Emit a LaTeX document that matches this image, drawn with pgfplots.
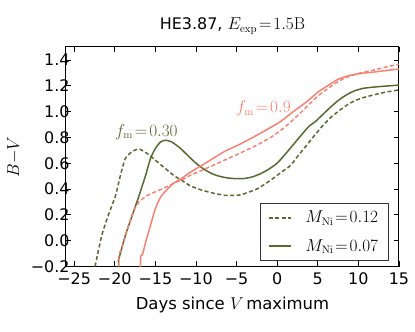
\documentclass[border=0pt]{standalone}
\usepackage[no-math]{fontspec}
\setmainfont{DejaVu Sans}
\usepackage{pgfplots}
\pgfplotsset{compat=1.18}

\definecolor{salmon}{RGB}{250,128,114}
\definecolor{olivegreen}{RGB}{85,107,47}

\begin{document}
\begin{tikzpicture}
\useasboundingbox (-66bp,-65.5bp) rectangle (349bp,266.5bp);
\begin{axis}[
width=333bp,
height=219.5bp,
scale only axis,
xmin=-26, xmax=15,
ymin=-0.2, ymax=1.5,
xtick={-25,-20,-15,-10,-5,0,5,10,15},
xticklabels={−25,−20,−15,−10,−5,0,5,10,15},
ytick={-0.2,0,0.2,0.4,0.6,0.8,1.0,1.2,1.4},
yticklabels={−0.2,0.0,0.2,0.4,0.6,0.8,1.0,1.2,1.4},
tick align=inside,
tick pos=both,
major tick length=5bp,
tick style={black, line width=0.8bp},
axis line style={line width=1bp},
tick label style={font=\fontsize{16}{18}\selectfont},
xticklabel style={yshift=-3bp},
yticklabel style={xshift=7bp},
label style={font=\fontsize{16.5}{18}\selectfont},
title style={font=\fontsize{16}{18}\selectfont, at={(axis description cs:0.5,1.068)}, anchor=center},
title={HE3.87, $E_{\mathrm{exp}}\!=\!1.5\mathrm{B}$},
xlabel={Days since $V$\,maximum},
xlabel style={at={(axis description cs:0.5,-0.177)}, anchor=center},
ylabel={$B{-}V$},
ylabel style={at={(axis description cs:-0.156,0.5)}, anchor=center},
legend cell align={left},
legend style={
  at={(0.968,0.025)},
  anchor=south east,
  draw=black!80,
  line width=0.6bp,
  font=\fontsize{16}{18}\selectfont,
  row sep=11bp,
  inner xsep=8bp,
  inner ysep=6bp
},
legend image code/.code={\draw[#1] (0bp,0bp) -- (22bp,0bp); \path (34bp,0bp);},
every axis plot/.append style={smooth, tension=0.35},
]

% f_m = 0.30 (green)
\addplot [olivegreen, line width=1.5bp, dash pattern=on 4bp off 2.5bp]
table {%
-22.5 -0.25
-22.4 -0.195
-21.6 0.04
-20.8 0.195
-19.9 0.35
-19.3 0.505
-18.7 0.636
-17.85 0.69
-17.0 0.71
-16.0 0.675
-15.0 0.623
-13.75 0.558
-12.75 0.506
-11.7 0.465
-10.7 0.425
-9.45 0.395
-8.0 0.37
-6.6 0.352
-5.8 0.35
-4.5 0.355
-2.5 0.40
-1.0 0.46
0.5 0.53
1.6 0.58
2.6 0.66
3.64 0.74
4.66 0.82
5.67 0.895
6.7 0.96
7.7 1.01
8.7 1.055
9.77 1.09
11.0 1.115
12.2 1.134
13.3 1.15
14.26 1.16
15.0 1.168
};
\addlegendentry{$M_{\mathrm{Ni}}\!=\!0.12$}
\addplot [olivegreen, line width=1.5bp]
table {%
-19.55 -0.25
-19.5 -0.14
-19.4 -0.12
-18.7 0.04
-17.85 0.195
-17.0 0.35
-16.2 0.506
-15.6 0.636
-15.0 0.714
-14.35 0.765
-13.75 0.778
-13.0 0.765
-12.0 0.72
-11.0 0.66
-10.0 0.60
-9.0 0.553
-8.0 0.518
-7.0 0.497
-6.0 0.485
-5.0 0.48
-4.0 0.482
-3.0 0.495
-2.0 0.52
-1.0 0.555
0.0 0.60
1.0 0.67
2.0 0.745
3.0 0.82
3.9 0.885
4.66 0.92
5.5 0.97
6.5 1.03
7.5 1.085
8.55 1.13
9.5 1.16
10.6 1.18
12.0 1.19
13.3 1.197
15.0 1.205
};
\addlegendentry{$M_{\mathrm{Ni}}\!=\!0.07$}

% f_m = 0.9 (salmon)
\addplot [salmon, line width=1.5bp, dash pattern=on 4bp off 2.5bp, forget plot]
table {%
-19.55 -0.25
-19.5 -0.12
-19.3 -0.08
-18.9 -0.013
-18.3 0.117
-17.65 0.233
-17.0 0.30
-16.0 0.35
-14.2 0.40
-12.75 0.445
-11.6 0.475
-10.7 0.506
-8.9 0.555
-6.6 0.62
-4.5 0.68
-2.5 0.74
-0.8 0.80
0.77 0.87
2.2 0.95
3.64 1.037
5.0 1.12
6.5 1.19
7.7 1.24
8.95 1.275
10.3 1.30
11.8 1.32
13.4 1.345
15.0 1.367
};
\addplot [salmon, line width=1.5bp, forget plot]
table {%
-16.85 -0.25
-16.8 -0.12
-16.6 -0.11
-16.5 -0.09
-16.2 -0.013
-15.6 0.117
-15.0 0.247
-14.35 0.337
-13.5 0.40
-12.75 0.445
-11.8 0.48
-10.7 0.53
-8.7 0.605
-6.6 0.687
-4.5 0.75
-2.5 0.817
-1.0 0.87
0.36 0.92
2.0 1.00
3.64 1.076
5.0 1.15
6.1 1.195
7.5 1.25
8.95 1.28
10.3 1.295
11.8 1.305
13.4 1.318
15.0 1.33
};

\node [text=olivegreen, font=\fontsize{16}{18}\selectfont] at (axis cs:-16.1,0.843) {$f_{\mathrm{m}}\!=\!0.30$};
\node [text=salmon, font=\fontsize{16}{18}\selectfont] at (axis cs:-1.7,1.025) {$f_{\mathrm{m}}\!=\!0.9$};

\end{axis}
\end{tikzpicture}
\end{document}
